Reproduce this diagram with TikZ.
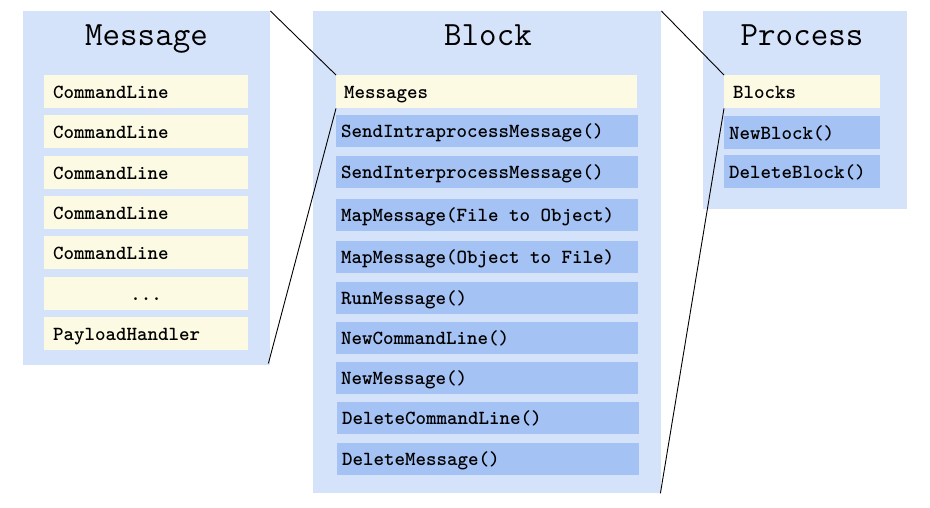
\documentclass[tikz,border=0pt]{standalone}
\usepackage{fontspec}
\definecolor{panelblue}{RGB}{212,226,250}
\definecolor{itemyellow}{RGB}{252,250,226}
\definecolor{itemblue}{RGB}{164,194,244}
\newcommand\tsp{\hspace*{0.525em}}
\tikzset{
  panel/.style={rectangle, fill=panelblue, draw=none, anchor=north west, inner sep=0pt},
  ptitle/.style={font=\ttfamily\fontsize{34}{38}\selectfont, inner sep=0pt, anchor=base},
  itembox/.style={rectangle, draw=none, anchor=north west, inner ysep=0pt, align=left,
    text height=20pt, text depth=7pt,
    font=\ttfamily\bfseries\fontsize{20}{22}\selectfont},
  yitem/.style={itembox, fill=itemyellow},
  bitem/.style={itembox, fill=itemblue},
  conn/.style={draw=black, line width=0.9pt}
}
\begin{document}
\begin{tikzpicture}[x=1pt,y=-1pt]
\useasboundingbox (0,0) rectangle (930,507);
% panels
\node[panel, minimum width=247pt, minimum height=354pt] (msg) at (23,11) {};
\node[panel, minimum width=348pt, minimum height=482pt] (blk) at (313,11) {};
\node[panel, minimum width=204pt, minimum height=198pt] (proc) at (703,11) {};
% titles
\node[ptitle] (tmsg) at (146.5,45) {Message};
\node[ptitle] (tblk) at (488,45) {Block};
\node[ptitle] (tproc) at (802,45) {Process};
% Message items
\begin{scope}[every node/.append style={yitem, inner xsep=9pt, text width=186pt, minimum height=33pt}]
\node (m1) at (44,75) {CommandLine};
\node (m2) at (44,115) {CommandLine};
\node (m3) at (44,156) {CommandLine};
\node (m4) at (44,196) {CommandLine};
\node (m5) at (44,236) {CommandLine};
\node[align=center] (m6) at (44,277) {...};
\node (m7) at (44,317) {PayloadHandler};
\end{scope}
% Block items
\node[yitem, inner xsep=8pt, text width=285pt, minimum height=33pt] (messages) at (336,75) {Messages};
\begin{scope}[every node/.append style={bitem, inner xsep=5pt, text width=292pt, minimum height=32pt}]
\node (b1) at (336,115) {SendIntraprocessMessage()};
\node (b2) at (336,156) {SendInterprocessMessage()};
\node (b3) at (336,199) {MapMessage(File\tsp to\tsp Object)};
\node (b4) at (336,241) {MapMessage(Object\tsp to\tsp File)};
\node (b5) at (336,282) {RunMessage()};
\node (b6) at (336,322) {NewCommandLine()};
\node (b7) at (336,362) {NewMessage()};
\node (b8) at (337,402) {DeleteCommandLine()};
\node (b9) at (337,443) {DeleteMessage()};
\end{scope}
% Process items
\node[yitem, inner xsep=9pt, text width=138pt, minimum height=33pt] (blocks) at (724,75) {Blocks};
\begin{scope}[every node/.append style={bitem, inner xsep=5pt, text width=146pt, minimum height=33pt}]
\node (p1) at (724,116) {NewBlock()};
\node (p2) at (724,155) {DeleteBlock()};
\end{scope}
% connectors
\draw[conn] (msg.north east) -- (messages.north west);
\draw[conn] ([xshift=-2pt,yshift=2pt]msg.south east) -- (messages.south west);
\draw[conn] (blk.north east) -- (blocks.north west);
\draw[conn] ([xshift=-1pt]blk.south east) -- (blocks.south west);
\end{tikzpicture}
\end{document}
